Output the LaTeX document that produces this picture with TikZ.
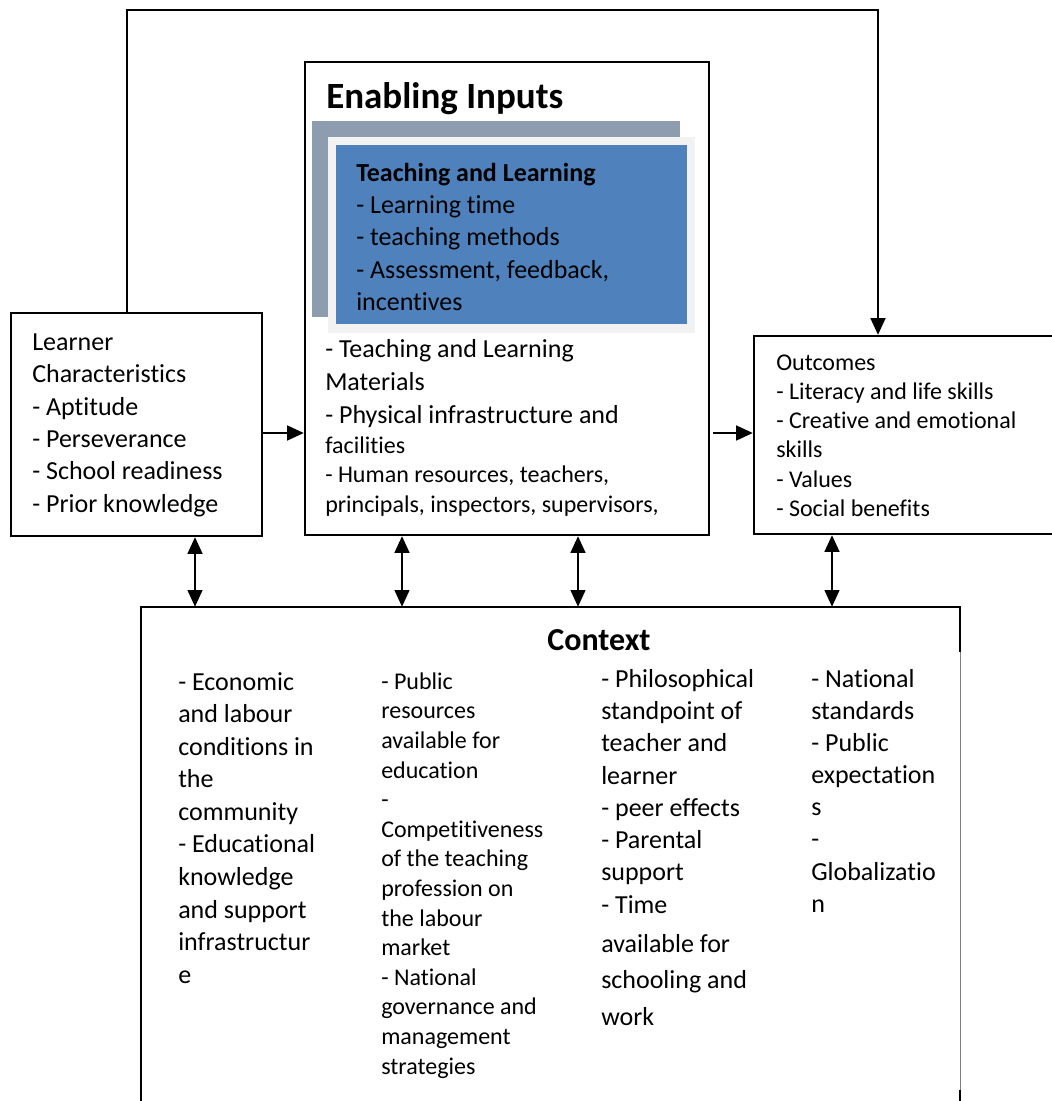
\documentclass[tikz,border=0pt]{standalone}
\usepackage{fontspec}
\setmainfont{Carlito}[Ligatures={NoCommon}]
\usetikzlibrary{arrows.meta,fit,calc}
\definecolor{tlblue}{HTML}{4F81BD}
\definecolor{shadowgrey}{HTML}{8E9CAF}
\definecolor{framegrey}{HTML}{F2F2F2}
\newcommand\fsz[2]{\fontsize{#1}{#2}\selectfont}
\begin{document}
\begin{tikzpicture}[x=0.75pt,y=-0.75pt,
  box/.style={draw=black,line width=1.7pt,inner sep=0pt},
  area/.style={inner sep=0pt},
  txt/.style={inner sep=0pt,anchor=north west,align=left},
  edge/.style={line width=1.7pt},
  thinedge/.style={draw=gray,line width=0.75pt},
  link/.style={line width=1.7pt,-{Triangle[length=12.5pt,width=11pt]}},
  dlink/.style={line width=1.7pt,{Triangle[length=12.5pt,width=11pt]}-{Triangle[length=12.5pt,width=11pt]}},
]
\clip (0,0) rectangle (1052,1101);
\fill[white] (0,0) rectangle (1052,1101);

% main boxes
\node[box,fit={(11,313) (262,536)}] (learner) {};
\node[box,fill=white,fit={(305,62) (709,535)}] (inputs) {};
\node[box,fit={(754,336) (1060,534)}] (outcomes) {};
\node[area,fit={(141,607) (960,1110)}] (context) {};

% layered teaching-and-learning panel
\node[area,fill=shadowgrey,fit={(312,121) (680,317)}] (shadow) {};
\node[area,fill=framegrey,fit={(328,137) (695,333)}] (frame) {};
\node[area,fill=tlblue,fit={(336,145) (687,324)}] (tlbox) {};

% context frame (open at the bottom, faint right edge)
\draw[edge] (context.south west) -- (context.north west) -- (context.north east) -- ++(0,45) coordinate (ctxR);
\draw[thinedge] (ctxR) -- (context.east |- 0,1090);
\draw[edge] (context.east |- 0,1090) -- (context.south east);

% texts
\node[anchor=base west,inner sep=0pt,font=\bfseries\fsz{27.75}{33}] (inputstitle) at (326,108) {Enabling Inputs};
\node[txt,font=\fsz{19.5}{24.2}] (tltext) at (356,158.4)
  {\strut\textbf{Teaching and Learning}\\- Learning time\\- teaching methods\\- Assessment, feedback,\\incentives};
\node[txt,font=\fsz{19.5}{24.75}] (inputsa) at (325,333.9)
  {\strut- Teaching and Learning\\Materials\\- Physical infrastructure and};
\node[txt,font=\fsz{18}{22.2}] (inputsb) at (325,432.35)
  {\strut facilities\\- Human resources, teachers,\\principals, inspectors, supervisors,};

\node[txt,font=\fsz{19.5}{24.3}] (learnertext) at (32,327.3)
  {\strut Learner\\Characteristics\\- Aptitude\\- Perseverance\\- School readiness\\- Prior knowledge};

\node[txt,font=\fsz{18}{21.9}] (outcomestext) at (776,349.6)
  {\strut Outcomes\\- Literacy and life skills\\- Creative and emotional\\skills\\- Values\\- Social benefits};

\node[anchor=base,inner sep=0pt,font=\bfseries\fsz{24}{29}] (contexttitle) at (599,650) {Context};
\node[txt,font=\fsz{19.5}{24.4}] (colone) at (178,667.25)
  {\strut- Economic\\and labour\\conditions in\\the\\community\\- Educational\\knowledge\\and support\\infrastructur\\e};
\node[txt,font=\fsz{18}{22.2}] (coltwo) at (381,668.3)
  {\strut- Public\\resources\\available for\\education\\{-}\\Competitiveness\\of the teaching\\profession on\\the labour\\market\\- National\\governance and\\management\\strategies};
\node[txt,font=\fsz{19.5}{24.2}] (colthreea) at (601,664.4)
  {\strut- Philosophical\\standpoint of\\teacher and\\learner\\- peer effects\\- Parental\\support\\- Time};
\node[txt,font=\fsz{19.5}{27.4}] (colthreeb) at (601,926.45)
  {\strut available for\\schooling and\\work};
\node[txt,font=\fsz{19.5}{24.1}] (colfour) at (811,664.5)
  {\strut- National\\standards\\- Public\\expectation\\s\\{-}\\Globalizatio\\n};

% connectors
\coordinate (rowA) at (0,433);
\coordinate (fbL) at (127,10);
\coordinate (fbR) at (878,10);
\draw[link] (learner.north -| fbL) -- (fbL) -- (fbR) -- (outcomes.north -| fbR);
\draw[link] (learner.east |- rowA) -- (inputs.west |- rowA);
\draw[link] ($(inputs.east |- rowA)+(3,0)$) -- (outcomes.west |- rowA);

\draw[dlink] (learner.south -| 195,0) -- (context.north -| 195,0);
\draw[dlink] (inputs.south -| 402,0) -- (context.north -| 402,0);
\draw[dlink] (inputs.south -| 578,0) -- (context.north -| 578,0);
\draw[dlink] (outcomes.south -| 832,0) -- (context.north -| 832,0);
\end{tikzpicture}
\end{document}
